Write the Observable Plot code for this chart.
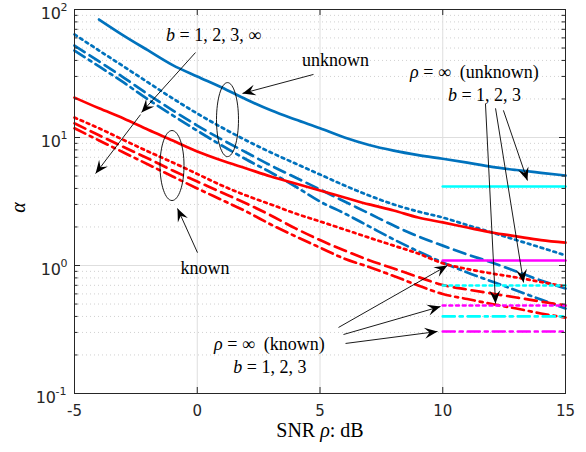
<!DOCTYPE html>
<html><head><meta charset="utf-8">
<script src="https://cdn.jsdelivr.net/npm/d3@7"></script>
<script src="https://cdn.jsdelivr.net/npm/@observablehq/plot@0.6"></script>
<style>html,body{margin:0;padding:0;background:#fff} svg{display:block}</style>
</head><body><div id="chart"></div>
<script>
// ---------------- data ----------------
const snr = [-5,-4,-3,-2,-1,0,1,2,3,4,5,6,7,8,9,10,11,12,13,14,15];

// unknown (blue)
const unkSolid   = [NaN,83.5,62.6,47.9,36.8,30.0,24.6,19.8,16.3,13.8,11.8,10.0,8.74,7.90,7.29,6.82,6.36,5.90,5.57,5.30,5.05];
const unkDotted  = [63.8,47.8,35.9,26.9,20.2,15.4,11.97,9.48,7.64,6.26,5.14,4.22,3.52,3.00,2.64,2.37,2.07,1.81,1.58,1.38,1.20];
const unkDashed  = [52.3,39.3,29.4,21.7,16.3,12.4,9.65,7.64,6.04,4.87,3.93,3.16,2.55,2.05,1.69,1.43,1.22,1.055,0.898,0.764,0.661];
const unkDashDot = [47.8,35.9,26.9,19.8,14.9,11.3,8.66,6.73,5.33,4.14,3.16,2.55,2.02,1.60,1.29,1.055,0.882,0.750,0.638,0.542,0.461];

// known (red)
const knSolid    = [20.5,16.9,14.1,11.5,9.48,7.77,6.61,5.73,4.96,4.37,3.85,3.40,3.00,2.69,2.37,2.17,1.98,1.81,1.69,1.58,1.51];
const knDotted   = [14.3,11.8,9.56,7.77,6.38,5.19,4.22,3.52,3.00,2.55,2.21,1.91,1.65,1.43,1.24,1.04,0.939,0.866,0.806,0.743,0.686];
const knDashed   = [12.9,10.4,8.43,6.85,5.52,4.53,3.72,3.05,2.46,1.95,1.58,1.31,1.10,0.947,0.813,0.704,0.649,0.604,0.562,0.523,0.487];
const knDashDot  = [11.8,9.48,7.64,6.15,4.96,4.00,3.25,2.64,2.09,1.69,1.38,1.13,0.973,0.828,0.698,0.599,0.547,0.500,0.461,0.422,0.392];

// rho = infinity floors, b = 1,2,3
const floorSnr = [10, 15];
const unkFloor = [4.14, 0.698, 0.40];
const knFloor  = [1.094, 0.487, 0.305];

// ticks
const xTicks = [-5, 0, 5, 10, 15];
const yExp = [-1, 0, 1, 2];
const yMajor = [0.1, 1, 10, 100];
const yMinor = [0.2,0.3,0.4,0.5,0.6,0.7,0.8,0.9,2,3,4,5,6,7,8,9,20,30,40,50,60,70,80,90];

// annotations (data coordinates)
const labelText = ["*b* = 1, 2, 3, ∞", "unknown", "known", "*ρ* = ∞\u00a0 (unknown)", "*b* = 1, 2, 3", "*ρ* = ∞\u00a0 (known)", "*b* = 1, 2, 3"];
const labelX = [0.662, 5.63, 0.316, 11.29, 11.70, 2.94, 2.96];
const labelY = [62.7, 39.9, 0.947, 32.2, 21.3, 0.241, 0.16];
const arrowTail = [[-0.071,46.1],[-2.31,15.1],[4.735,31.1],[0.01,1.26],[12.47,16.3],[12.15,16.9],[11.74,18.4],[5.754,0.328],[5.957,0.289],[6.04,0.246]];
const arrowTip  = [[-2.27,15.7],[-4.14,5.23],[1.843,22.1],[-0.804,2.79],[13.45,4.61],[13.29,0.737],[12.15,0.505],[10.19,1.0],[9.908,0.478],[9.786,0.305]];
const ellipseCenter = [[1.232,13.8],[-1.028,6.04]];

// ---------------- layout ----------------
const W = 586, H = 452, ML = 74, MR = 21, MT = 9, MB = 59;
const innerW = W - ML - MR, innerH = H - MT - MB;
const px = d3.scaleLinear([-5, 15], [ML, W - MR]);
const py = d3.scaleLog([0.1, 100], [H - MB, MT]);

const BLUE = "#0072BD", RED = "#FF0000", CYAN = "#00FFFF", MAGENTA = "#FF00FF";
const DOT = "2.7,4", DASH = "12,6", DASHDOT = "12,5,3,5";
const LW = 2.7;

const toRows = (ys) => snr.map((x, i) => ({x, y: ys[i]}));
const curves = [
  {ys: unkSolid, stroke: BLUE, dash: null},
  {ys: unkDotted, stroke: BLUE, dash: DOT},
  {ys: unkDashed, stroke: BLUE, dash: DASH},
  {ys: unkDashDot, stroke: BLUE, dash: DASHDOT},
  {ys: knSolid, stroke: RED, dash: null},
  {ys: knDotted, stroke: RED, dash: DOT},
  {ys: knDashed, stroke: RED, dash: DASH},
  {ys: knDashDot, stroke: RED, dash: DASHDOT}
];
const floorDash = [null, DOT, DASHDOT];
const floorRows = (vals) => vals.map((v) => floorSnr.map((x) => ({x, y: v})));

const arrows = arrowTail.map((t, i) => {
  const h = arrowTip[i];
  return {x1: t[0], y1: t[1], x2: h[0], y2: h[1],
    a: Math.atan2(py(h[1]) - py(t[1]), px(h[0]) - px(t[0])) * 180 / Math.PI};
});
const labels = labelText.map((t, i) => ({t, x: labelX[i], y: labelY[i]}));

const arrowHead = {draw(ctx) { ctx.moveTo(0, 0); ctx.lineTo(-13, -5.5); ctx.lineTo(-8, 0); ctx.lineTo(-13, 5.5); ctx.closePath(); }};
function ellipse(rx, ry) {
  const kx = rx * 0.5523, ky = ry * 0.5523;
  return {draw(ctx) {
    ctx.moveTo(rx, 0);
    ctx.bezierCurveTo(rx, ky, kx, ry, 0, ry);
    ctx.bezierCurveTo(-kx, ry, -rx, ky, -rx, 0);
    ctx.bezierCurveTo(-rx, -ky, -kx, -ry, 0, -ry);
    ctx.bezierCurveTo(kx, -ry, rx, -ky, rx, 0);
    ctx.closePath();
  }};
}

const SERIF = "Liberation Serif";
const SANS = "DejaVu Sans";
const AX = "#262626";

const marks = [
  // grid
  Plot.ruleY(yMinor, {y: d => d, stroke: "#c4c4c4", strokeDasharray: "1,3", strokeWidth: 0.8}),
  Plot.ruleY(yMajor, {y: d => d, stroke: "#dedede", strokeWidth: 1}),
  Plot.ruleX(xTicks, {x: d => d, stroke: "#dedede", strokeWidth: 1}),
  // curves
  ...curves.map(c => Plot.line(toRows(c.ys), {x: "x", y: "y", stroke: c.stroke, strokeWidth: LW, strokeDasharray: c.dash, curve: "monotone-x"})),
  // rho = infinity floors
  ...floorRows(unkFloor).map((r, i) => Plot.line(r, {x: "x", y: "y", stroke: CYAN, strokeWidth: LW, strokeDasharray: floorDash[i]})),
  ...floorRows(knFloor).map((r, i) => Plot.line(r, {x: "x", y: "y", stroke: MAGENTA, strokeWidth: LW, strokeDasharray: floorDash[i]})),
  // box and inward ticks
  Plot.frame({stroke: AX, strokeWidth: 1}),
  Plot.ruleY(yMajor, {y: d => d, insetRight: innerW - 6, stroke: AX}),
  Plot.ruleY(yMajor, {y: d => d, insetLeft: innerW - 6, stroke: AX}),
  Plot.ruleY(yMinor, {y: d => d, insetRight: innerW - 3.5, stroke: AX}),
  Plot.ruleY(yMinor, {y: d => d, insetLeft: innerW - 3.5, stroke: AX}),
  Plot.ruleX(xTicks, {x: d => d, insetTop: innerH - 6, stroke: AX}),
  Plot.ruleX(xTicks, {x: d => d, insetBottom: innerH - 6, stroke: AX}),
  // tick labels
  Plot.text(xTicks, {x: d => d, frameAnchor: "bottom", dy: 22, text: d => String(d), fontSize: 15, fontFamily: SANS, fill: AX}),
  Plot.text(yExp.filter(e => e >= 0), {y: e => 10 ** e, frameAnchor: "left", dx: -13.5, dy: 4, textAnchor: "end", text: () => "10", fontSize: 16, fontFamily: SANS, fill: AX}),
  Plot.text(yExp.filter(e => e < 0), {y: e => 10 ** e, frameAnchor: "left", dx: -18.5, dy: 4, textAnchor: "end", text: () => "10", fontSize: 16, fontFamily: SANS, fill: AX}),
  Plot.text(yExp.filter(e => e >= 0), {y: e => 10 ** e, frameAnchor: "left", dx: -14, dy: -2, textAnchor: "start", text: e => String(e), fontSize: 11, fontFamily: SANS, fill: AX}),
  Plot.text(yExp.filter(e => e < 0), {y: e => 10 ** e, frameAnchor: "left", dx: -19, dy: -2, textAnchor: "start", text: e => String(e), fontSize: 11, fontFamily: SANS, fill: AX}),
  // axis titles
  Plot.text([{t: "SNR *ρ*: dB", x: 5}], {x: "x", frameAnchor: "bottom", dy: 43, text: "t", fontSize: 20, fontFamily: SERIF, fill: "black"}),
  Plot.text([{t: "*α*", x: -7.281, y: 2.84}], {x: "x", y: "y", rotate: -90, text: "t", fontSize: 20, fontFamily: SERIF, fill: "black"}),
  // annotations
  Plot.dot([ellipseCenter[0]], {x: d => d[0], y: d => d[1], symbol: ellipse(11, 37), fill: "none", stroke: "black", strokeWidth: 0.9}),
  Plot.dot([ellipseCenter[1]], {x: d => d[0], y: d => d[1], symbol: ellipse(12, 35), fill: "none", stroke: "black", strokeWidth: 0.9}),
  Plot.link(arrows, {x1: "x1", y1: "y1", x2: "x2", y2: "y2", stroke: "black", strokeWidth: 0.9}),
  Plot.dot(arrows, {x: "x2", y: "y2", rotate: "a", symbol: arrowHead, fill: "black", stroke: "none", r: 5}),
  Plot.text(labels, {x: "x", y: "y", text: "t", fontSize: 18, fontFamily: SERIF, fill: "black"})
];

const svg = Plot.plot({
  width: W, height: H,
  marginLeft: ML, marginRight: MR, marginTop: MT, marginBottom: MB,
  x: {domain: [-5, 15], axis: null},
  y: {type: "log", domain: [0.1, 100], axis: null},
  style: {background: "white", fontFamily: SANS, fontSize: "15px"},
  marks
});

// italic math segments marked with *...*
const NS = "http://www.w3.org/2000/svg";
for (const t of svg.querySelectorAll("text")) {
  const s = t.textContent;
  if (!s.includes("*")) continue;
  t.textContent = "";
  s.split("*").forEach((part, i) => {
    if (!part) return;
    const ts = document.createElementNS(NS, "tspan");
    ts.textContent = part;
    if (i % 2) ts.setAttribute("font-style", "italic");
    t.appendChild(ts);
  });
}
document.getElementById("chart").appendChild(svg);
</script>
</body></html>
